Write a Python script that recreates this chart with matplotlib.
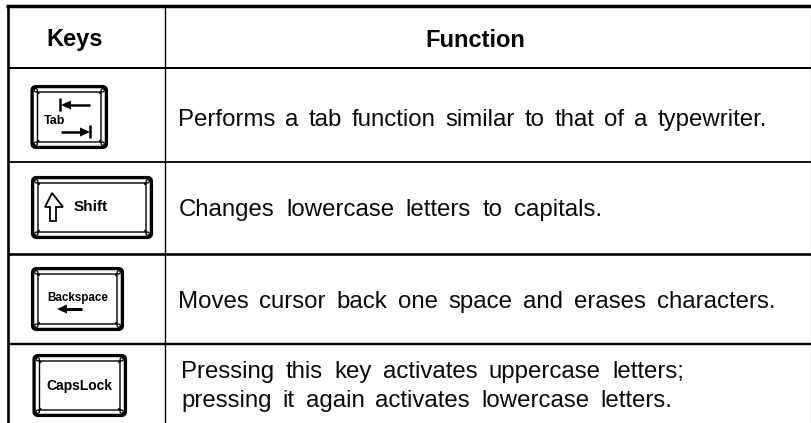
import matplotlib
matplotlib.use("Agg")
import matplotlib.pyplot as plt
from matplotlib.patches import FancyBboxPatch, Polygon, Circle

headers = ["Keys", "Function"]
description_lines = [
    "Performs a tab function similar to that of a typewriter.",
    "Changes lowercase letters to capitals.",
    "Moves cursor back one space and erases characters.",
    "Pressing this key activates uppercase letters;",
    "pressing it again activates lowercase letters.",
]
key_names = ["Tab", "Shift", "Backspace", "CapsLock"]

W, H = 812, 423
FONT = "Liberation Sans"
fig = plt.figure(figsize=(W / 100, H / 100), dpi=100)
ax = fig.add_axes([0, 0, 1, 1])
ax.set_xlim(0, W)
ax.set_ylim(H, 0)
ax.axis("off")

# grid
ax.plot([6.5, 811], [6, 6], color="k", lw=2.5, solid_capstyle="butt")
for y, lw in [(68.5, 1.45), (161.7, 1.3), (254.3, 1.9), (343.8, 1.7)]:
    ax.plot([8, 811], [y, y], color="k", lw=lw, solid_capstyle="butt")
ax.plot([8.2, 8.2], [5, H], color="k", lw=1.9, solid_capstyle="butt")
ax.plot([165, 165], [5, H], color="k", lw=1.0, solid_capstyle="butt")
ax.plot([811, 811], [5, H], color="k", lw=0.8, solid_capstyle="butt")

# header
ax.text(75, 46, headers[0], ha="center", va="baseline", family=FONT, weight="bold", fontsize=17)
ax.text(475, 47, headers[1], ha="center", va="baseline", family=FONT, weight="bold", fontsize=17)

# description lines, word-spaced across the measured line extents
line_layout = [(178, 767, 126), (179, 602, 216), (178, 775, 308), (181, 684, 378), (181, 672, 407)]
renderer = fig.canvas.get_renderer()
for (x0, x1, y), line in zip(line_layout, description_lines):
    words = line.split(" ")
    items = [ax.text(0, y, w, ha="left", va="baseline", family=FONT, fontsize=17.3, color="#0a0a0a")
             for w in words]
    widths = [t.get_window_extent(renderer).width for t in items]
    gap = (x1 - x0 - sum(widths)) / (len(words) - 1)
    x = x0
    for t, w in zip(items, widths):
        t.set_x(x)
        x += w + gap


def keycap(x0, y0, x1, y1):
    ax.add_patch(FancyBboxPatch((x0 + 3, y0 + 3), x1 - x0 - 6, y1 - y0 - 6,
                                boxstyle="round,pad=2.4,rounding_size=4",
                                fc="white", ec="k", lw=2.4))
    ax.add_patch(FancyBboxPatch((x0 + 6, y0 + 6), x1 - x0 - 12, y1 - y0 - 12,
                                boxstyle="round,pad=0,rounding_size=1",
                                fc="white", ec="k", lw=1.0))
    for cx, cy, dx, dy in [(x0, y0, 1, 1), (x1, y0, -1, 1), (x0, y1, 1, -1), (x1, y1, -1, -1)]:
        ax.plot([cx + dx * 2, cx + dx * 7], [cy + dy * 2, cy + dy * 7], color="k", lw=1.4)
        ax.add_patch(Circle((cx + dx * 4.3, cy + dy * 4.3), 1.6, fc="white", ec="k", lw=0.9, zorder=3))


def arrow(x_tail, x_head, y, bar=False, lw=1.8):
    d = 1 if x_head > x_tail else -1
    ax.plot([x_tail, x_head - d * 8], [y, y], color="k", lw=lw, solid_capstyle="butt")
    ax.add_patch(Polygon([(x_head, y), (x_head - d * 10, y - 4.5), (x_head - d * 10, y + 4.5)],
                         fc="k", ec="none"))
    if bar:
        ax.plot([x_head + d * 0.5, x_head + d * 0.5], [y - 6.5, y + 6.5], color="k", lw=1.8,
                solid_capstyle="butt")


# Tab
keycap(31.5, 86, 107, 148)
arrow(90, 61, 105, bar=True)
arrow(61, 90, 132, bar=True)
ax.text(55, 121, key_names[0], ha="center", va="center", family=FONT, weight="bold", fontsize=9)

# Shift
keycap(32, 177, 152, 238)
ax.add_patch(Polygon([(52, 193), (45, 207), (50, 207), (50, 221), (56, 221), (56, 207), (63, 207)],
                     closed=True, fc="white", ec="k", lw=1.3))
ax.text(91, 207, key_names[1], ha="center", va="center", family=FONT, weight="bold", fontsize=11)

# Backspace
keycap(32, 268, 123, 330)
ax.text(77.5, 298, key_names[2], ha="center", va="center", family=FONT, weight="bold", fontsize=8.4)
arrow(82, 57, 309, lw=2.2)

# CapsLock
keycap(33.5, 355, 126, 416)
ax.text(79.5, 386, key_names[3], ha="center", va="center", family=FONT, fontsize=10,
        weight="bold", color="k")

fig.savefig("out.png", dpi=100, facecolor="white")
